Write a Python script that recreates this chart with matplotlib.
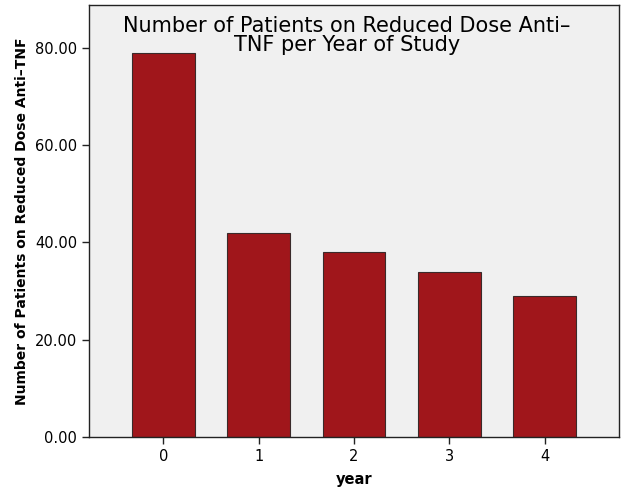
import matplotlib
matplotlib.use("Agg")
import matplotlib.pyplot as plt

years = [0, 1, 2, 3, 4]
tick_labels = ["0", "1", "2", "3", "4"]
patients = [79, 42, 38, 34, 29]
yticks = [0, 20, 40, 60, 80]

plt.rcParams['font.family'] = ['DejaVu Sans']
fig = plt.figure(figsize=(6.26, 5.01), dpi=100)
ax = fig.add_axes([89/626, 1-436.7/501, (619-89)/626, (436.7-5)/501])
ax.set_facecolor('#f0f0f0')
ax.bar(years, patients, width=0.66, color='#a0161b', edgecolor='#3a2a2a', linewidth=0.8, zorder=2)
ax.set_xlim(-0.78, 4.78)
ax.set_ylim(0, 88.9)
ax.set_xticks(years)
ax.set_xticklabels(tick_labels)
ax.set_yticks(yticks)
ax.set_yticklabels([f"{v:.2f}" for v in yticks])
ax.tick_params(axis='both', labelsize=10.5, length=5, width=1, color='#222222')
for s in ax.spines.values():
    s.set_linewidth(1)
    s.set_color('#222222')
ax.set_xlabel('year', fontsize=10.5, fontweight='bold', labelpad=6)
ax.set_ylabel('Number of Patients on Reduced Dose Anti\u2013TNF', fontsize=10, fontweight='bold', labelpad=4)
ax.text(0.487, 0.975, 'Number of Patients on Reduced Dose Anti\u2013\nTNF per Year of Study',
        transform=ax.transAxes, ha='center', va='top', fontsize=15, linespacing=0.93, zorder=3)
fig.savefig('out.png', dpi=100)
